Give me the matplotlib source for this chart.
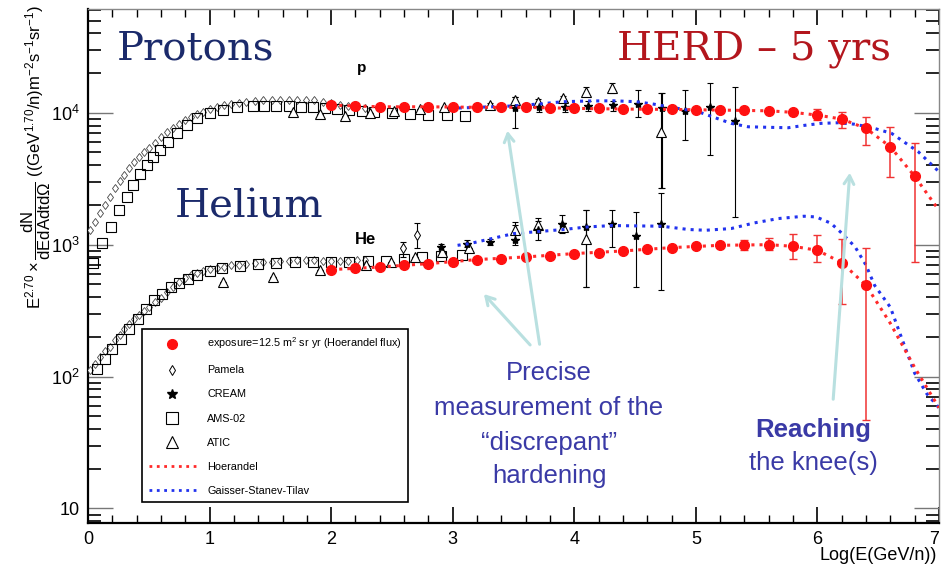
import matplotlib
matplotlib.use("Agg")
import matplotlib.pyplot as plt
from matplotlib.lines import Line2D
import numpy as np

plt.rcParams["font.family"] = ["Liberation Sans", "DejaVu Sans"]
plt.rcParams["mathtext.fontset"] = "custom"
plt.rcParams["mathtext.rm"] = "Liberation Sans"
plt.rcParams["mathtext.it"] = "Liberation Sans:italic"
plt.rcParams["mathtext.bf"] = "Liberation Sans:bold"

# -----------------------
# Data
# -----------------------
# HERD 5 yr expected points
herd_p_x = [2.0, 2.2, 2.4, 2.6, 2.8, 3.0, 3.2, 3.4, 3.6, 3.8, 4.0, 4.2, 4.4,
            4.6, 4.8, 5.0, 5.2, 5.4, 5.6, 5.8, 6.0, 6.2, 6.4, 6.6, 6.8]
herd_p_y = [11430, 11300, 11100, 11100, 11100, 11000, 11000, 11000, 11000,
            10800, 10800, 10800, 10670, 10670, 10600, 10480, 10480, 10480,
            10350, 10070, 9600, 8960, 7610, 5520, 3300]
herd_p_lo = [8800, 7610, 5680, 3260, 740]      # last 5 points
herd_p_hi = [10600, 10180, 9330, 7830, 5860]

herd_he_x = [2.0, 2.2, 2.4, 2.6, 2.8, 3.0, 3.2, 3.4, 3.6, 3.8, 4.0, 4.2, 4.4,
             4.6, 4.8, 5.0, 5.2, 5.4, 5.6, 5.8, 6.0, 6.2, 6.4]
herd_he_y = [647, 665, 677, 698, 718, 740, 771, 778, 807, 827, 856, 871, 896,
             928, 950, 972, 989, 1000, 1000, 972, 906, 731, 492]
herd_he_lo = [918, 906, 784, 740, 357, 46.5]   # last 6 points
herd_he_hi = [1094, 1132, 1200, 1178, 1112, 950]

# models
hoer_p_x = [2.0, 2.4, 2.8, 3.2, 3.6, 4.0, 4.4, 4.8, 5.2, 5.6, 5.8, 6.0, 6.2,
            6.4, 6.6, 6.8, 7.0]
hoer_p_y = [11430, 11100, 11100, 11000, 11000, 10800, 10670, 10600, 10480,
            10350, 10070, 9600, 8960, 7610, 5520, 3300, 1820]
hoer_he_x = [2.0, 2.4, 2.8, 3.2, 3.6, 4.0, 4.4, 4.8, 5.2, 5.6, 5.8, 6.0, 6.2,
             6.4, 6.6, 6.8, 7.0]
hoer_he_y = [647, 677, 718, 771, 807, 856, 896, 950, 989, 1000, 972, 906, 731,
             492, 253, 117, 58]

gst_p_x = [3.05, 3.48, 3.70, 3.91, 4.11, 4.32, 4.51, 4.65, 4.80, 5.02, 5.15,
           5.29, 5.43, 5.62, 5.76, 5.89, 6.03, 6.17, 6.30, 6.44, 6.61, 6.83, 7.0]
gst_p_y = [10860, 11250, 11640, 12130, 12280, 12330, 12130, 11640, 10990,
           10180, 9230, 8310, 7830, 7750, 7700, 8020, 8310, 8400, 8200, 7750,
           6980, 5060, 3570]
gst_he_x = [3.04, 3.14, 3.50, 3.91, 4.11, 4.31, 4.72, 4.94, 5.08, 5.29, 5.48,
            5.68, 5.89, 5.99, 6.11, 6.20, 6.31, 6.40, 6.47, 6.60, 6.70, 6.80,
            6.90, 7.0]
gst_he_y = [989, 1019, 1213, 1303, 1363, 1396, 1380, 1303, 1286, 1325, 1462,
            1578, 1643, 1622, 1455, 1223, 962, 698, 492, 335, 188, 106, 74, 58]

# Pamela
pam_p_x = [0.02, 0.06, 0.10, 0.14, 0.18, 0.22, 0.26, 0.30, 0.34, 0.38, 0.42,
           0.46, 0.50, 0.55, 0.60, 0.65, 0.70, 0.75, 0.80, 0.85, 0.90, 0.95,
           1.00, 1.06, 1.12, 1.18, 1.24, 1.30, 1.37, 1.44, 1.51, 1.58, 1.65,
           1.72, 1.79, 1.86, 1.93, 2.00, 2.07, 2.14, 2.21, 2.28]
pam_p_y = [1300, 1480, 1730, 2000, 2300, 2680, 3050, 3400, 3800, 4200, 4600,
           5000, 5400, 5950, 6550, 7150, 7700, 8250, 8800, 9350, 9800, 10200,
           10600, 11050, 11450, 11750, 11950, 12100, 12250, 12400, 12450,
           12500, 12500, 12480, 12450, 12400, 12150, 11800, 11500, 11250,
           11050, 10900]
pam_he_x = [0.02, 0.06, 0.10, 0.14, 0.18, 0.22, 0.26, 0.30, 0.34, 0.38, 0.42,
            0.46, 0.50, 0.55, 0.60, 0.65, 0.70, 0.75, 0.80, 0.85, 0.90, 0.95,
            1.00, 1.06, 1.12, 1.18, 1.24, 1.30, 1.37, 1.44, 1.51, 1.58, 1.65,
            1.72, 1.79, 1.86, 1.93, 2.00, 2.07, 2.14, 2.21, 2.28]
pam_he_y = [112, 125, 140, 155, 168, 188, 208, 228, 250, 272, 292, 313, 336,
            365, 396, 435, 476, 520, 560, 590, 615, 635, 650, 668, 683, 696,
            707, 716, 725, 735, 742, 750, 755, 760, 762, 760, 757, 752, 755,
            758, 760, 762]
pam_he_hx = [2.59, 2.71]
pam_he_hy = [940, 1178]
pam_he_lo = [807, 940]
pam_he_hi = [1050, 1452]

# AMS-02
ams_p_x = [0.04, 0.115, 0.19, 0.255, 0.32, 0.37, 0.428, 0.485, 0.535, 0.593,
           0.658, 0.732, 0.815, 0.897, 1.0, 1.11, 1.225, 1.357, 1.45, 1.55,
           1.65, 1.75, 1.85, 1.95, 2.05, 2.15, 2.25, 2.35, 2.5, 2.65, 2.8,
           2.95, 3.1]
ams_p_y = [723, 1026, 1356, 1824, 2290, 2830, 3430, 4010, 4610, 5210, 5990,
           7020, 8070, 9120, 9950, 10480, 11040, 11250, 11250, 11250, 11250,
           11150, 11050, 10860, 10670, 10480, 10300, 10120, 9950, 9780, 9610,
           9610, 9440]
ams_he_x = [0.07, 0.14, 0.20, 0.27, 0.34, 0.41, 0.48, 0.54, 0.61, 0.68, 0.75,
            0.82, 0.90, 1.0, 1.1, 1.25, 1.4, 1.55, 1.7, 1.85, 2.0, 2.15, 2.3,
            2.45, 2.6, 2.75, 2.9, 3.08]
ams_he_y = [115, 136, 163, 194, 231, 275, 327, 379, 426, 478, 510, 545, 585,
            628, 661, 686, 710, 722, 735, 735, 735, 735, 748, 748, 775, 802,
            817, 832]

# ATIC
atic_p_x = [1.69, 1.91, 2.11, 2.32, 2.52, 2.73, 2.93, 3.31, 3.51, 3.70, 3.91,
            4.10, 4.31, 4.71]
atic_p_y = [10180, 9730, 9440, 10000, 10300, 10600, 11000, 11440, 12480,
            12130, 12850, 14420, 15310, 7180]
atic_p_lo = [10180, 9730, 9440, 10000, 10300, 10600, 11000, 11000, 11900,
             11600, 12300, 13300, 14100, 2680]
atic_p_hi = [10180, 9730, 9440, 10000, 10300, 10600, 11000, 11900, 13100,
             12700, 13400, 15700, 16900, 14100]
atic_he_x = [1.11, 1.52, 1.91, 2.29, 2.49, 2.69, 2.91, 3.13, 3.51, 3.70,
             3.91, 4.10]
atic_he_y = [518, 565, 640, 700, 740, 807, 881, 940, 1286, 1403, 1361, 1112]
atic_he_lo = [518, 565, 640, 700, 740, 807, 881, 940, 1200, 1310, 1270, 475]
atic_he_hi = [518, 565, 640, 700, 740, 807, 881, 940, 1400, 1520, 1460, 1824]

# CREAM
cream_p_x = [3.51, 3.71, 3.92, 4.11, 4.32, 4.52, 4.72, 4.91, 5.12, 5.32]
cream_p_y = [10860, 11050, 11110, 11250, 11440, 11640, 10860, 10300, 11050,
             8650]
cream_p_lo = [7660, 10200, 10180, 10280, 10280, 9270, 2680, 6210, 4780, 1615]
cream_p_hi = [13150, 11900, 12000, 12300, 12300, 14860, 14100, 14860, 16830,
              15670]
cream_he_x = [2.90, 3.12, 3.31, 3.51, 3.70, 3.90, 4.10, 4.31, 4.51, 4.71]
cream_he_y = [961, 1019, 1050, 1080, 1286, 1429, 1361, 1429, 1164, 1446]
cream_he_lo = [900, 960, 990, 988, 1080, 1219, 475, 955, 475, 451]
cream_he_hi = [1020, 1080, 1110, 1480, 1585, 1671, 1824, 1824, 1762, 2455]

# -----------------------
# Figure
# -----------------------
W, H = 941, 572


def fpos(px, py):
    return (px / W, 1 - py / H)


fig = plt.figure(figsize=(W / 100, H / 100), dpi=100)
ax = fig.add_axes([88 / W, 1 - 522.7 / H, (939 - 88) / W, (522.7 - 9) / H])
ax.set_yscale("log")
ax.set_xlim(0, 7)
ax.set_ylim(7.8, 61200)


def errs(y, lo, hi):
    y = np.asarray(y, float)
    return [y - np.asarray(lo, float), np.asarray(hi, float) - y]


bar_kw = dict(fmt="none", ecolor="black", elinewidth=0.8, capsize=2.5,
              capthick=0.8, zorder=3)

# black data points
ax.plot(pam_p_x, pam_p_y, ls="none", marker="d", ms=4.5, mfc="white",
        mec="#444444", mew=0.6, zorder=3)
ax.plot(pam_he_x, pam_he_y, ls="none", marker="d", ms=4.5, mfc="white",
        mec="#444444", mew=0.6, zorder=3)
ax.errorbar(pam_he_hx, pam_he_hy, yerr=errs(pam_he_hy, pam_he_lo, pam_he_hi),
            **bar_kw)
ax.plot(pam_he_hx, pam_he_hy, ls="none", marker="d", ms=5, mfc="white",
        mec="black", mew=0.7, zorder=4)

ax.plot(ams_p_x, ams_p_y, ls="none", marker="s", ms=7, mfc="none",
        mec="black", mew=0.8, zorder=3)
ax.plot(ams_he_x, ams_he_y, ls="none", marker="s", ms=7, mfc="none",
        mec="black", mew=0.8, zorder=3)

ax.errorbar(atic_p_x, atic_p_y, yerr=errs(atic_p_y, atic_p_lo, atic_p_hi),
            **bar_kw)
ax.errorbar(atic_he_x, atic_he_y, yerr=errs(atic_he_y, atic_he_lo, atic_he_hi),
            **bar_kw)
ax.plot(atic_p_x, atic_p_y, ls="none", marker="^", ms=6.5, mfc="white",
        mec="black", mew=0.8, zorder=4)
ax.plot(atic_he_x, atic_he_y, ls="none", marker="^", ms=6.5, mfc="white",
        mec="black", mew=0.8, zorder=4)

ax.errorbar(cream_p_x, cream_p_y, yerr=errs(cream_p_y, cream_p_lo, cream_p_hi),
            **bar_kw)
ax.errorbar(cream_he_x, cream_he_y,
            yerr=errs(cream_he_y, cream_he_lo, cream_he_hi), **bar_kw)
ax.plot(cream_p_x, cream_p_y, ls="none", marker="*", ms=6, color="black",
        zorder=4)
ax.plot(cream_he_x, cream_he_y, ls="none", marker="*", ms=6, color="black",
        zorder=4)

# models
ax.plot(gst_p_x, gst_p_y, ls=":", lw=2.2, color="#2233ee", zorder=5)
ax.plot(gst_he_x, gst_he_y, ls=":", lw=2.2, color="#2233ee", zorder=5)
ax.plot(hoer_p_x, hoer_p_y, ls=":", lw=2.2, color="#ff2a2a", zorder=5)
ax.plot(hoer_he_x, hoer_he_y, ls=":", lw=2.2, color="#ff2a2a", zorder=5)

# HERD points
red_bar = dict(fmt="none", ecolor="#f03333", elinewidth=1.1, capsize=3,
               capthick=1.0, zorder=6)
ax.errorbar(herd_p_x[-5:], herd_p_y[-5:],
            yerr=errs(herd_p_y[-5:], herd_p_lo, herd_p_hi), **red_bar)
ax.errorbar(herd_he_x[-6:], herd_he_y[-6:],
            yerr=errs(herd_he_y[-6:], herd_he_lo, herd_he_hi), **red_bar)
ax.plot(herd_p_x, herd_p_y, ls="none", marker="o", ms=7, color="#ff1010",
        zorder=7)
ax.plot(herd_he_x, herd_he_y, ls="none", marker="o", ms=7, color="#ff1010",
        zorder=7)

# axes styling
ax.set_xticks([0, 1, 2, 3, 4, 5, 6, 7])
ax.set_xticks(np.arange(0, 7.01, 0.2), minor=True)
ax.set_yticks([10, 100, 1000, 10000])
ax.set_yticklabels(["10", "$10^2$", "$10^3$", "$10^4$"])
ax.yaxis.set_minor_locator(matplotlib.ticker.LogLocator(subs=np.arange(2, 10)))
ax.yaxis.set_minor_formatter(matplotlib.ticker.NullFormatter())
ax.tick_params(axis="both", which="both", direction="in", top=True,
               right=True, labelsize=13, colors="black")
ax.tick_params(axis="x", which="major", length=11.5, width=1.2, pad=6)
ax.tick_params(axis="x", which="minor", length=6, width=1.0)
ax.tick_params(axis="y", which="major", length=18, width=1.0, pad=6,
               color="#777777")
ax.tick_params(axis="y", which="minor", length=9.5, width=1.2)
ax.get_xticklabels()[-1].set_horizontalalignment("right")
for s in ["left", "bottom"]:
    ax.spines[s].set_linewidth(1.6)
    ax.spines[s].set_color("black")
for s in ["top", "right"]:
    ax.spines[s].set_linewidth(1.0)
    ax.spines[s].set_color("#888888")

fig.text(*fpos(937, 556), "Log(E(GeV/n))", ha="right", va="center",
         fontsize=13)
fig.text(*fpos(36, 157),
         r"$\mathrm{E^{2.70}\times\dfrac{dN}{dEdAdtd\Omega}}$ "
         r"((GeV$^{1.70}$/n)m$^{-2}$s$^{-1}$sr$^{-1}$)",
         rotation=90, ha="center", va="center", fontsize=12)

# titles on the plot
navy = "#1b2a6b"
fig.text(*fpos(117, 59), "Protons", fontsize=29, color=navy,
         family="DejaVu Serif", va="baseline")
fig.text(*fpos(175, 217), "Helium", fontsize=29, color=navy,
         family="DejaVu Serif", va="baseline")
fig.text(*fpos(617, 59), "HERD \u2013 5 yrs", fontsize=29, color="#b3161d",
         family="DejaVu Serif", va="baseline")
fig.text(*fpos(362, 68), "p", fontsize=11, fontweight="bold", ha="center",
         va="center")
fig.text(*fpos(366, 240), "He", fontsize=12, fontweight="bold", ha="center",
         va="center")

blue_txt = "#3a3aa6"
fig.text(*fpos(549, 380), "Precise", fontsize=18.5, color=blue_txt,
         ha="center", va="baseline")
fig.text(*fpos(549, 415), "measurement of the", fontsize=18.5, color=blue_txt,
         ha="center", va="baseline")
fig.text(*fpos(549, 450), "\u201cdiscrepant\u201d", fontsize=18.5,
         color=blue_txt, ha="center", va="baseline")
fig.text(*fpos(549, 483), "hardening", fontsize=18.5, color=blue_txt,
         ha="center", va="baseline")
fig.text(*fpos(813, 437), "Reaching", fontsize=18.5, color=blue_txt,
         fontweight="bold", ha="center", va="baseline")
fig.text(*fpos(813, 470), "the knee(s)", fontsize=18.5, color=blue_txt,
         ha="center", va="baseline")

# arrows
cyan = "#b9e0e0"
for tail, head in [((540, 347), (507, 128)), ((532, 347), (482, 292)),
                   ((833, 402), (850, 170))]:
    fig.add_artist(matplotlib.patches.FancyArrowPatch(
        fpos(*tail), fpos(*head), transform=fig.transFigure,
        arrowstyle="->,head_length=6,head_width=3.5", color=cyan, lw=2.2))
fig.add_artist(matplotlib.patches.FancyArrowPatch(
    fpos(313, 420), fpos(287, 352), transform=fig.transFigure,
    arrowstyle="->,head_length=7,head_width=4", color="#ff2a10", lw=3))

# legend
handles = [
    Line2D([], [], ls="none", marker="o", ms=7, color="#ff1010"),
    Line2D([], [], ls="none", marker="d", ms=5, mfc="white", mec="black",
           mew=0.7),
    Line2D([], [], ls="none", marker="*", ms=7, color="black"),
    Line2D([], [], ls="none", marker="s", ms=8, mfc="none", mec="black",
           mew=0.8),
    Line2D([], [], ls="none", marker="^", ms=8, mfc="white", mec="black",
           mew=0.8),
    Line2D([], [], ls=":", lw=2, color="#ff2a2a"),
    Line2D([], [], ls=":", lw=2, color="#2233ee"),
]
labels = ["exposure=12.5 m$^2$ sr yr (Hoerandel flux)", "Pamela", "CREAM",
          "AMS-02", "ATIC", "Hoerandel", "Gaisser-Stanev-Tilav"]
leg = fig.legend(handles, labels, loc="upper left",
                 bbox_to_anchor=fpos(142, 329), borderaxespad=0,
                 fontsize=7.8, labelspacing=1.3, handlelength=4.4,
                 handletextpad=1.0, borderpad=0.6, fancybox=False,
                 framealpha=1, edgecolor="black")
leg.get_frame().set_linewidth(1.2)

fig.savefig("out.png", dpi=100)
